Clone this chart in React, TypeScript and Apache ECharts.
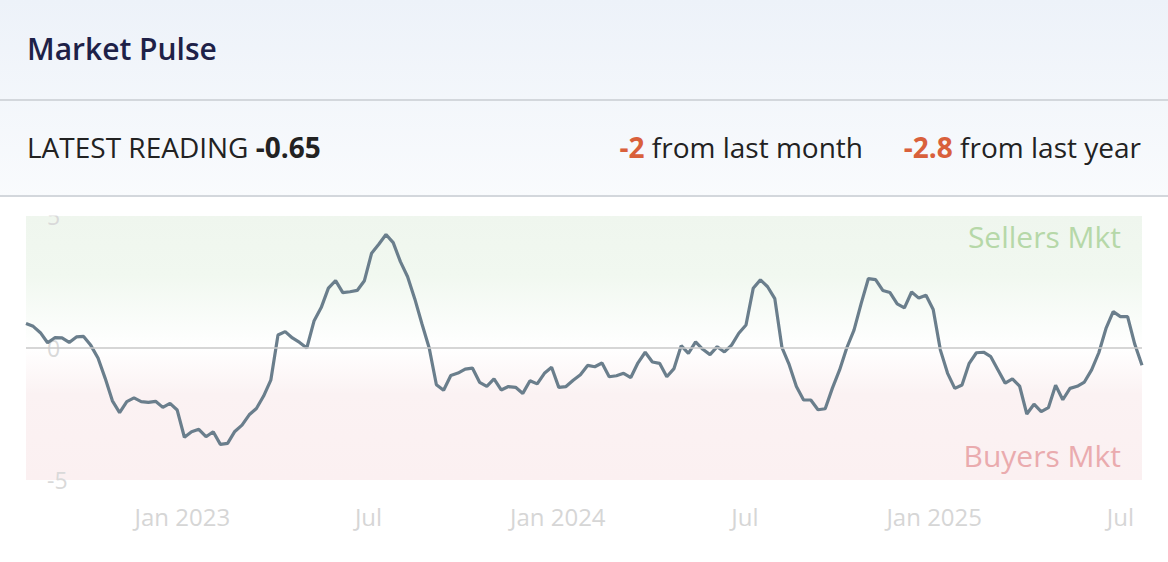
import { useEffect, useRef } from 'react';
import * as echarts from 'echarts';

const TITLE = 'Market Pulse';
const LATEST_LABEL = 'LATEST READING';
const LATEST_VALUE = '-0.65';
const MONTH_CHANGE = '-2';
const YEAR_CHANGE = '-2.8';
const SELLERS_LABEL = 'Sellers Mkt';
const BUYERS_LABEL = 'Buyers Mkt';

// first weekly reading: 2 Aug 2022
const START_DATE = { year: 2022, month: 7, day: 2 };

const WEEKLY_VALUES = [
  0.93, 0.82, 0.58, 0.2, 0.39, 0.38, 0.21, 0.42, 0.44, 0.1,
  -0.38, -1.15, -2.0, -2.45, -2.03, -1.89, -2.03, -2.06, -2.02, -2.25,
  -2.1, -2.35, -3.38, -3.17, -3.08, -3.36, -3.17, -3.65, -3.61, -3.16,
  -2.92, -2.53, -2.29, -1.82, -1.22, 0.49, 0.62, 0.38, 0.21, 0.0,
  1.02, 1.53, 2.27, 2.55, 2.1, 2.13, 2.18, 2.55, 3.59, 3.93,
  4.3, 3.99, 3.27, 2.7, 1.86, 0.91, 0.0, -1.39, -1.6, -1.04,
  -0.95, -0.8, -0.76, -1.3, -1.45, -1.17, -1.59, -1.46, -1.49, -1.72,
  -1.24, -1.36, -0.96, -0.73, -1.49, -1.46, -1.22, -1.01, -0.66, -0.71,
  -0.57, -1.09, -1.05, -0.96, -1.12, -0.56, -0.16, -0.53, -0.58, -1.09,
  -0.78, 0.09, -0.2, 0.23, -0.05, -0.25, 0.05, -0.15, 0.11, 0.56,
  0.87, 2.26, 2.58, 2.32, 1.87, 0.01, -0.63, -1.46, -1.97, -1.97,
  -2.34, -2.3, -1.52, -0.83, 0.01, 0.68, 1.69, 2.63, 2.59, 2.18,
  2.1, 1.67, 1.52, 2.12, 1.89, 2.0, 1.46, -0.08, -0.96, -1.53,
  -1.4, -0.58, -0.18, -0.16, -0.33, -0.83, -1.33, -1.17, -1.44, -2.5,
  -2.13, -2.41, -2.26, -1.41, -1.96, -1.53, -1.45, -1.29, -0.83, -0.18,
  0.74, 1.38, 1.19, 1.19, 0.14, -0.65,
];

const Y_MIN = -5;
const Y_MAX = 5;
const Y_INTERVAL = 5;

const X_TICKS: [number, number, string][] = [
  [2023, 0, 'Jan 2023'],
  [2023, 6, 'Jul'],
  [2024, 0, 'Jan 2024'],
  [2024, 6, 'Jul'],
  [2025, 0, 'Jan 2025'],
  [2025, 6, 'Jul'],
];

const FONT = "'Open Sans', 'Noto Sans', sans-serif";

export default function App() {
  const ref = useRef<HTMLDivElement>(null);

  useEffect(() => {
    document.body.style.margin = '0';
    if (!ref.current) return;
    const chart = echarts.init(ref.current, null, { renderer: 'svg' });

    const DAY = 86400000;
    const start = new Date(START_DATE.year, START_DATE.month, START_DATE.day).getTime();
    const seriesData = WEEKLY_VALUES.map((v, i) => [start + i * 7 * DAY, v]);
    const end = seriesData[seriesData.length - 1][0] as number;

    const tickTimes = X_TICKS.map(([y, m]) => new Date(y, m, 1).getTime());
    const tickLabel: Record<string, string> = {};
    X_TICKS.forEach(([y, m, l]) => {
      tickLabel[String(new Date(y, m, 1).getTime())] = l;
    });

    const greenGrad = new echarts.graphic.LinearGradient(0, 0, 0, 1, [
      { offset: 0, color: '#eff6ee' },
      { offset: 0.45, color: '#f1f8f0' },
      { offset: 0.85, color: '#fbfdfb' },
      { offset: 1, color: '#ffffff' },
    ]);
    const pinkGrad = new echarts.graphic.LinearGradient(0, 0, 0, 1, [
      { offset: 0, color: '#ffffff' },
      { offset: 0.35, color: '#fbf2f3' },
      { offset: 1, color: '#fbf0f1' },
    ]);

    const txt = (size: number, fill: string, weight: string | number = 'normal') => ({
      fontSize: size,
      fontFamily: FONT,
      fontWeight: weight,
      fill,
    });

    chart.setOption({
      animation: false,
      grid: { left: 26, right: 26, top: 216, bottom: 82 },
      xAxis: {
        type: 'value',
        min: start,
        max: end,
        axisLine: { show: false },
        axisTick: { show: false },
        splitLine: { show: false },
        axisLabel: {
          customValues: tickTimes,
          formatter: (val: number) => tickLabel[String(val)] ?? '',
          color: '#d6d6d6',
          fontSize: 24,
          fontFamily: FONT,
          margin: 24,
          hideOverlap: false,
        },
      },
      yAxis: {
        type: 'value',
        min: Y_MIN,
        max: Y_MAX,
        interval: Y_INTERVAL,
        z: 3,
        axisLine: { show: false },
        axisTick: { show: false },
        splitLine: { show: false },
        axisLabel: {
          inside: true,
          margin: 21,
          color: '#d9d9d9',
          fontSize: 23,
          fontFamily: FONT,
        },
      },
      graphic: [
        {
          type: 'rect',
          z: -10,
          shape: { x: 0, y: 0, width: 1168, height: 198 },
          style: {
            fill: new echarts.graphic.LinearGradient(0, 0, 0, 1, [
              { offset: 0, color: '#edf2f9' },
              { offset: 1, color: '#f9fbfd' },
            ]),
          },
        },
        {
          type: 'rect',
          z: 20,
          shape: { x: 0, y: 197, width: 1168, height: 18.5 },
          style: { fill: '#ffffff' },
        },
        {
          type: 'line',
          z: 21,
          shape: { x1: 0, y1: 100, x2: 1168, y2: 100 },
          style: { stroke: '#d3d7dc', lineWidth: 2 },
        },
        {
          type: 'line',
          z: 21,
          shape: { x1: 0, y1: 196, x2: 1168, y2: 196 },
          style: { stroke: '#d3d7dc', lineWidth: 2 },
        },
        {
          type: 'text',
          x: 27,
          y: 48,
          style: {
            text: TITLE,
            fill: '#1e2148',
            font: `600 30px ${FONT}`,
            verticalAlign: 'middle',
            align: 'left',
          },
        },
        {
          type: 'text',
          x: 27,
          y: 147,
          style: {
            text: `{n|${LATEST_LABEL} }{b|${LATEST_VALUE}}`,
            verticalAlign: 'middle',
            align: 'left',
            rich: {
              n: txt(28, '#222222'),
              b: txt(28, '#222222', 'bold'),
            },
          },
        },
        {
          type: 'text',
          x: 863,
          y: 147,
          style: {
            text: `{o|${MONTH_CHANGE}}{n| from last month}`,
            verticalAlign: 'middle',
            align: 'right',
            rich: {
              o: txt(28, '#d9603b', 'bold'),
              n: txt(28, '#222222'),
            },
          },
        },
        {
          type: 'text',
          x: 1141,
          y: 147,
          style: {
            text: `{o|${YEAR_CHANGE}}{n| from last year}`,
            verticalAlign: 'middle',
            align: 'right',
            rich: {
              o: txt(28, '#d9603b', 'bold'),
              n: txt(28, '#222222'),
            },
          },
        },
        {
          type: 'text',
          x: 1121,
          y: 236,
          z: 5,
          style: {
            text: SELLERS_LABEL,
            fill: '#b6d8a8',
            font: `30px ${FONT}`,
            verticalAlign: 'middle',
            align: 'right',
          },
        },
        {
          type: 'text',
          x: 1121,
          y: 455,
          z: 5,
          style: {
            text: BUYERS_LABEL,
            fill: '#eaabae',
            font: `30px ${FONT}`,
            verticalAlign: 'middle',
            align: 'right',
          },
        },
      ],
      series: [
        {
          type: 'line',
          data: seriesData,
          showSymbol: false,
          symbol: 'none',
          lineStyle: { color: '#6a7e8c', width: 3.2 },
          z: 4,
          markArea: {
            silent: true,
            data: [
              [{ yAxis: Y_MAX, itemStyle: { color: greenGrad } }, { yAxis: 0 }],
              [{ yAxis: 0, itemStyle: { color: pinkGrad } }, { yAxis: Y_MIN }],
            ],
          },
          markLine: {
            silent: true,
            symbol: 'none',
            label: { show: false },
            lineStyle: { color: '#c9c9c9', width: 1.5, type: 'solid' },
            data: [{ yAxis: 0 }],
          },
        },
      ],
    });

    return () => chart.dispose();
  }, []);

  return <div ref={ref} style={{ width: 1168, height: 562 }} />;
}
